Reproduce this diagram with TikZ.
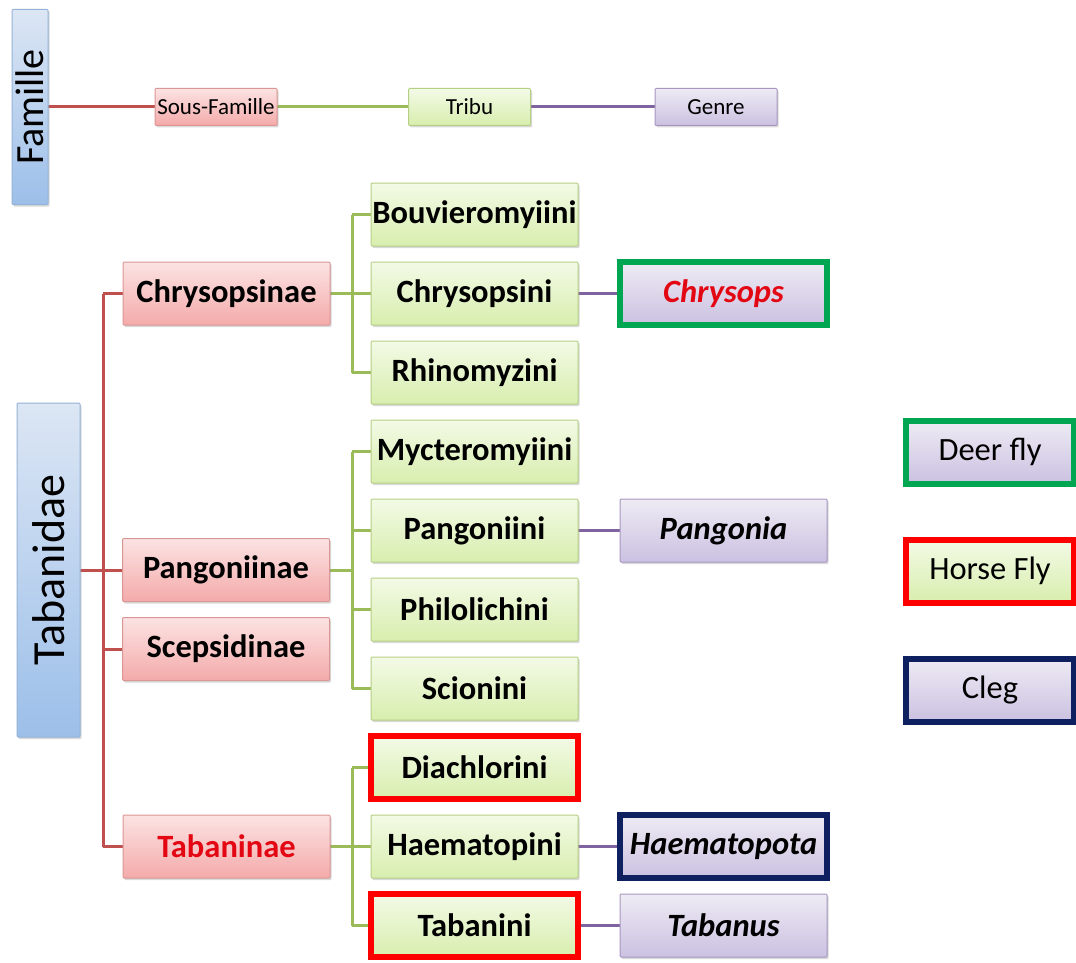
\documentclass[tikz,border=0pt]{standalone}
\usepackage{fontspec}
\setmainfont{Carlito}
\usetikzlibrary{positioning,shadows,backgrounds}
\definecolor{famEdge}{HTML}{95B3D7}
\definecolor{famTop}{HTML}{DCE6F4}
\definecolor{famBottom}{HTML}{9CBFE9}
\definecolor{subEdge}{HTML}{D99694}
\definecolor{subTop}{HTML}{FCE3E3}
\definecolor{subBottom}{HTML}{F4AAAA}
\definecolor{triEdge}{HTML}{B5CF84}
\definecolor{triTop}{HTML}{F3FAE6}
\definecolor{triBottom}{HTML}{D8EEAE}
\definecolor{genEdge}{HTML}{A797C0}
\definecolor{genTop}{HTML}{EEEBF4}
\definecolor{genBottom}{HTML}{CBC1E1}
\definecolor{famLine}{HTML}{C0504D}
\definecolor{subLine}{HTML}{9BBB59}
\definecolor{genLine}{HTML}{8064A2}
\definecolor{deerGreen}{HTML}{00A651}
\definecolor{horseRed}{HTML}{FF0000}
\definecolor{clegNavy}{HTML}{0E2060}
\definecolor{nameRed}{HTML}{E30613}
\tikzset{
  rankbox/.style={
    draw,
    line width=1pt,
    outer sep=0pt,
    rounded corners=1pt,
    align=center,
    inner sep=1pt,
    drop shadow={shadow xshift=1.5pt, shadow yshift=-2pt, opacity=.3}
  },
  bigbox/.style={
    rankbox,
    minimum width=207pt,
    minimum height=63pt,
    font=\fontsize{32.5}{36}\selectfont\bfseries
  },
  famillebox/.style={rankbox, draw=famEdge, top color=famTop, bottom color=famBottom},
  subbox/.style={bigbox, draw=subEdge, top color=subTop, bottom color=subBottom},
  tribebox/.style={bigbox, draw=triEdge, top color=triTop, bottom color=triBottom},
  genusbox/.style={bigbox, draw=genEdge, top color=genTop, bottom color=genBottom,
    font=\fontsize{32.5}{36}\selectfont\bfseries\itshape},
  keybox/.style={rankbox, minimum width=122pt, minimum height=37pt,
    font=\fontsize{23}{26}\selectfont},
  flybox/.style={rankbox, minimum width=168pt, minimum height=63pt,
    font=\fontsize{32.5}{36}\selectfont},
  deerframe/.style={draw=deerGreen, line width=6pt, rounded corners=0pt},
  horseframe/.style={draw=horseRed, line width=6pt, rounded corners=0pt},
  clegframe/.style={draw=clegNavy, line width=6pt, rounded corners=0pt},
  famline/.style={draw=famLine, line width=3pt},
  subline/.style={draw=subLine, line width=3pt},
  genline/.style={draw=genLine, line width=3pt}
}

\begin{document}
\begin{tikzpicture}[x=1pt, y=-1pt, node distance=16pt and 42pt]
  \useasboundingbox (0,0) rectangle (1076,963);

  % key to the ranks
  \node[famillebox, rotate=90, minimum width=195pt, minimum height=36pt,
    font=\fontsize{40}{44}\selectfont] (famille) at (30,107) {Famille};
  \node[keybox, draw=subEdge, top color=subTop, bottom color=subBottom] (keySousFamille) at (216,107) {Sous-Famille};
  \node[keybox, draw=triEdge, top color=triTop, bottom color=triBottom] (keyTribu) at (469.5,107) {Tribu};
  \node[keybox, draw=genEdge, top color=genTop, bottom color=genBottom] (keyGenre) at (716,107) {Genre};

  % family
  \node[famillebox, rotate=90, minimum width=334pt, minimum height=63pt,
    font=\fontsize{46}{50}\selectfont] (tabanidae) at (48.5,570) {Tabanidae};

  % tribes
  \node[tribebox] (bouvieromyiini) at (474.5,214.5) {Bouvieromyiini};
  \node[tribebox, below=of bouvieromyiini] (chrysopsini) {Chrysopsini};
  \node[tribebox, below=of chrysopsini] (rhinomyzini) {Rhinomyzini};
  \node[tribebox, below=of rhinomyzini] (mycteromyiini) {Mycteromyiini};
  \node[tribebox, below=of mycteromyiini] (pangoniini) {Pangoniini};
  \node[tribebox, below=of pangoniini] (philolichini) {Philolichini};
  \node[tribebox, below=of philolichini] (scionini) {Scionini};
  \node[tribebox, horseframe, below=of scionini] (diachlorini) {Diachlorini};
  \node[tribebox, below=of diachlorini] (haematopini) {Haematopini};
  \node[tribebox, horseframe, below=of haematopini] (tabanini) {Tabanini};

  % sub-families
  \node[subbox, left=41pt of chrysopsini] (chrysopsinae) {Chrysopsinae};
  \node[subbox] (pangoniinae) at (226,570) {Pangoniinae};
  \node[subbox, below=of pangoniinae] (scepsidinae) {Scepsidinae};
  \node[subbox, left=41pt of haematopini, text=nameRed] (tabaninae) {Tabaninae};

  % genera
  \node[genusbox, deerframe, right=of chrysopsini, text=nameRed] (chrysops) {Chrysops};
  \node[genusbox, right=of pangoniini] (pangonia) {Pangonia};
  \node[genusbox, clegframe, right=of haematopini] (haematopota) {Haematopota};
  \node[genusbox, right=of tabanini] (tabanus) {Tabanus};

  % legend
  \node[flybox, deerframe, top color=genTop, bottom color=genBottom] (deerFly) at (990,452) {Deer fly};
  \node[flybox, horseframe, top color=triTop, bottom color=triBottom] (horseFly) at (990,571) {Horse Fly};
  \node[flybox, clegframe, top color=genTop, bottom color=genBottom] (cleg) at (990,690) {Cleg};

  \begin{scope}[on background layer]
    \draw[famline] (famille) -- (keySousFamille);
    \draw[subline] (keySousFamille) -- (keyTribu);
    \draw[genline] (keyTribu) -- (keyGenre);

    \draw[famline] (tabanidae) -- (pangoniinae);
    \draw[famline] ([xshift=-20pt]chrysopsinae.west) -- ([xshift=-20pt]tabaninae.west);
    \foreach \s in {chrysopsinae,scepsidinae,tabaninae}
      \draw[famline] ([xshift=-20pt]\s.west) -- (\s.west);

    \path ([xshift=-19pt]bouvieromyiini.west) coordinate (chrysoJoint)
          ([xshift=-19pt]mycteromyiini.west) coordinate (pangoJoint)
          ([xshift=-19pt]diachlorini.west) coordinate (tabaJoint);
    \draw[subline] (chrysopsinae) -- (chrysopsini);
    \draw[subline] (chrysoJoint) -- (chrysoJoint |- rhinomyzini);
    \foreach \t in {bouvieromyiini,rhinomyzini}
      \draw[subline] (chrysoJoint |- \t) -- (\t.west);
    \draw[subline] (pangoniinae) -- (pangoJoint |- pangoniinae);
    \draw[subline] (pangoJoint) -- (pangoJoint |- scionini);
    \foreach \t in {mycteromyiini,pangoniini,philolichini,scionini}
      \draw[subline] (pangoJoint |- \t) -- (\t.west);
    \draw[subline] (tabaninae) -- (haematopini);
    \draw[subline] (tabaJoint) -- (tabaJoint |- tabanini);
    \foreach \t in {diachlorini,tabanini}
      \draw[subline] (tabaJoint |- \t) -- (\t.west);

    \draw[genline] (chrysopsini) -- (chrysops);
    \draw[genline] (pangoniini) -- (pangonia);
    \draw[genline] (haematopini) -- (haematopota);
    \draw[genline] (tabanini) -- (tabanus);
  \end{scope}
\end{tikzpicture}
\end{document}
